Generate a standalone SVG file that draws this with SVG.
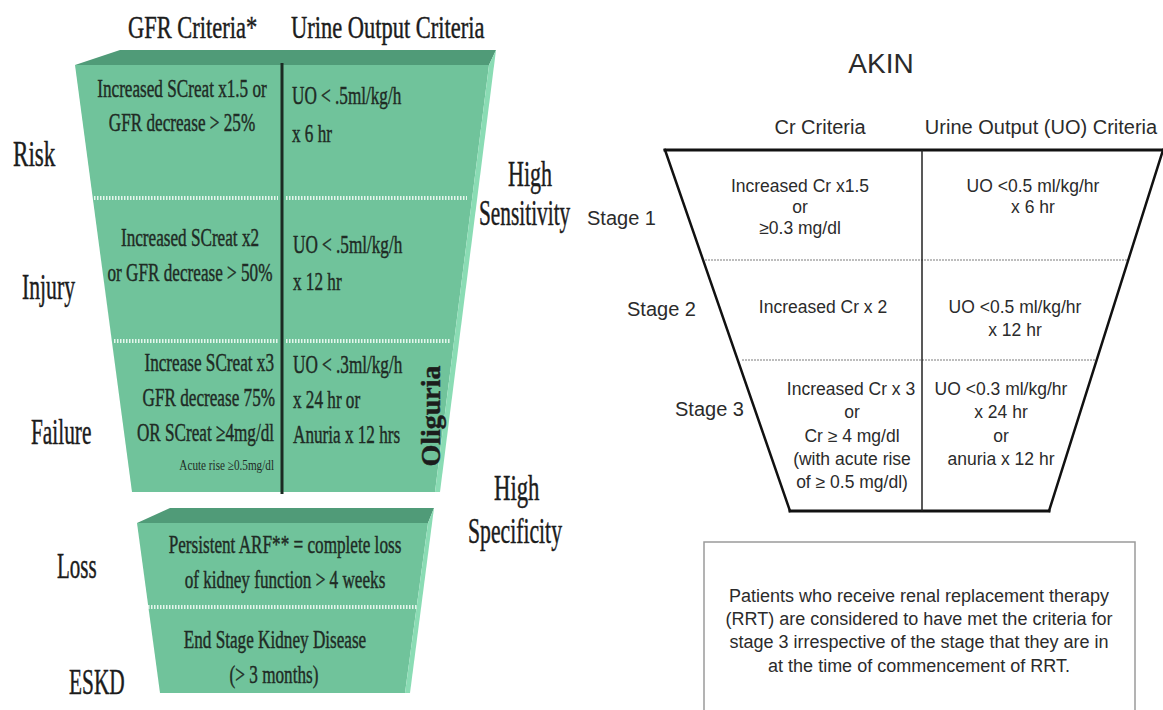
<svg xmlns="http://www.w3.org/2000/svg" width="1163" height="710" viewBox="0 0 1163 710">
<style>
.ser{font-family:"Liberation Serif","Times New Roman",serif;fill:#1c1c1c;stroke:#1c1c1c;stroke-width:0.45}
.hdr{font-size:31px}
.lbl{font-size:35px}
.cell{font-size:26px;fill:#1f2b25;stroke:#1f2b25}
.small{font-size:14px;fill:#1f2b25;stroke:none}
.mid{text-anchor:middle}
.end{text-anchor:end}
.sans{font-family:"Liberation Sans",Arial,sans-serif;fill:#2b2b2b}
.cs{font-size:17.5px}
.sh{font-size:20px}
.face{fill:#70c39b}
.band{fill:#509b78}
.strip{fill:#8adcb4}
.dot{stroke:#e4f6ec;stroke-width:4;stroke-dasharray:1.5 1.5;fill:none}
.gdot{stroke:#a8a8a8;stroke-width:1.6;stroke-dasharray:2 1;fill:none}
.blk{stroke:#111;fill:none;stroke-linecap:square}
</style>

<g id="rifle-headers">
<text class="ser hdr" transform="translate(128,38) scale(0.725,1)">GFR Criteria*</text>
<text class="ser hdr" transform="translate(291,38) scale(0.725,1)">Urine Output Criteria</text>
</g>

<g id="rifle-upper-box">
<polygon class="band" points="75,65 120,50 496,50 489,65"/>
<polygon class="face" points="75,65 489,65 435,492 132,492"/>
<polygon class="strip" points="489,65 496,50 440,492 435,492"/>
<line x1="282" y1="63" x2="282" y2="494" stroke="#1b2a23" stroke-width="3"/>
<line class="dot" x1="94" y1="198" x2="278" y2="198"/>
<line class="dot" x1="286" y1="198" x2="467" y2="198"/>
<line class="dot" x1="114" y1="341" x2="278" y2="341"/>
<line class="dot" x1="286" y1="341" x2="450" y2="341"/>
</g>

<g id="risk-row">
<text class="ser cell mid" transform="translate(182,97) scale(0.66,1)">Increased SCreat x1.5 or</text>
<text class="ser cell mid" transform="translate(182,131) scale(0.66,1)">GFR decrease &gt; 25%</text>
<text class="ser cell" transform="translate(292,104) scale(0.66,1)">UO &lt; .5ml/kg/h</text>
<text class="ser cell" transform="translate(292,142) scale(0.66,1)">x 6 hr</text>
</g>

<g id="injury-row">
<text class="ser cell mid" transform="translate(190,246) scale(0.66,1)">Increased SCreat x2</text>
<text class="ser cell mid" transform="translate(190,281) scale(0.66,1)">or GFR decrease &gt; 50%</text>
<text class="ser cell" transform="translate(293,253) scale(0.66,1)">UO &lt; .5ml/kg/h</text>
<text class="ser cell" transform="translate(293,290) scale(0.66,1)">x 12 hr</text>
</g>

<g id="failure-row">
<text class="ser cell end" transform="translate(274,371) scale(0.66,1)">Increase SCreat x3</text>
<text class="ser cell end" transform="translate(275,406) scale(0.66,1)">GFR decrease 75%</text>
<text class="ser cell end" transform="translate(274,441) scale(0.66,1)">OR SCreat ≥4mg/dl</text>
<text class="ser small end" transform="translate(274,470) scale(0.8,1)">Acute rise ≥0.5mg/dl</text>
<text class="ser cell" transform="translate(293,373) scale(0.66,1)">UO &lt; .3ml/kg/h</text>
<text class="ser cell" transform="translate(293,408) scale(0.66,1)">x 24 hr or</text>
<text class="ser cell" transform="translate(293,443) scale(0.66,1)">Anuria x 12 hrs</text>
<text class="ser mid" font-size="28" font-weight="bold" fill="#1b2a23" stroke="none" transform="translate(440,416) rotate(-90)">Oliguria</text>
</g>

<g id="rifle-lower-box">
<polygon class="band" points="137,523 170,508 434,508 428,523"/>
<polygon class="face" points="137,523 428,523 405,693 160,693"/>
<polygon class="strip" points="428,523 434,508 410,693 405,693"/>
<line class="dot" x1="148" y1="607" x2="418" y2="607"/>
<text class="ser cell mid" transform="translate(285,553) scale(0.66,1)">Persistent ARF** = complete loss</text>
<text class="ser cell mid" transform="translate(285,588) scale(0.66,1)">of kidney function &gt; 4 weeks</text>
<text class="ser cell mid" transform="translate(275,648) scale(0.66,1)">End Stage Kidney Disease</text>
<text class="ser cell mid" transform="translate(274,683) scale(0.66,1)">(&gt; 3 months)</text>
</g>

<g id="rifle-labels">
<text class="ser lbl" transform="translate(13,166) scale(0.66,1)">Risk</text>
<text class="ser lbl" transform="translate(22,299) scale(0.62,1)">Injury</text>
<text class="ser lbl" transform="translate(31,444) scale(0.61,1)">Failure</text>
<text class="ser lbl" transform="translate(57,578) scale(0.6,1)">Loss</text>
<text class="ser lbl" transform="translate(69,694) scale(0.61,1)">ESKD</text>
<text class="ser lbl" transform="translate(508,186) scale(0.63,1)">High</text>
<text class="ser lbl" transform="translate(479,225) scale(0.61,1)">Sensitivity</text>
<text class="ser lbl" transform="translate(494,500) scale(0.65,1)">High</text>
<text class="ser lbl" transform="translate(468,543) scale(0.62,1)">Specificity</text>
</g>

<g id="akin-title">
<text class="sans" font-size="28" x="881" y="73" text-anchor="middle" fill="#222">AKIN</text>
<text class="sans sh" x="820" y="134" text-anchor="middle">Cr Criteria</text>
<text class="sans sh" x="1041" y="134" text-anchor="middle">Urine Output (UO) Criteria</text>
</g>

<g id="akin-funnel">
<line class="gdot" x1="705" y1="260" x2="1128" y2="260"/>
<line class="gdot" x1="742" y1="360" x2="1097" y2="360"/>
<line class="blk" x1="665" y1="150" x2="1163" y2="150" stroke-width="3"/>
<line class="blk" x1="790" y1="511" x2="1049" y2="511" stroke-width="3"/>
<line class="blk" x1="665" y1="150" x2="790" y2="511" stroke-width="2.5"/>
<line class="blk" x1="1163" y1="150" x2="1049" y2="511" stroke-width="2.5"/>
<line x1="922" y1="150" x2="922" y2="511" stroke="#222" stroke-width="1.5"/>
</g>

<g id="stage-1">
<text class="sans sh" x="587" y="225">Stage 1</text>
<text class="sans cs" x="800" y="192" text-anchor="middle">Increased Cr x1.5</text>
<text class="sans cs" x="800" y="213" text-anchor="middle">or</text>
<text class="sans cs" x="800" y="234" text-anchor="middle">≥0.3 mg/dl</text>
<text class="sans cs" x="1033" y="192" text-anchor="middle">UO &lt;0.5 ml/kg/hr</text>
<text class="sans cs" x="1033" y="213" text-anchor="middle">x 6 hr</text>
</g>

<g id="stage-2">
<text class="sans sh" x="627" y="316">Stage 2</text>
<text class="sans cs" x="823" y="313" text-anchor="middle">Increased Cr x 2</text>
<text class="sans cs" x="1015" y="313" text-anchor="middle">UO &lt;0.5 ml/kg/hr</text>
<text class="sans cs" x="1015" y="336" text-anchor="middle">x 12 hr</text>
</g>

<g id="stage-3">
<text class="sans sh" x="675" y="416">Stage 3</text>
<text class="sans cs" x="851" y="395" text-anchor="middle">Increased Cr x 3</text>
<text class="sans cs" x="852" y="418" text-anchor="middle">or</text>
<text class="sans cs" x="852" y="442" text-anchor="middle">Cr ≥ 4 mg/dl</text>
<text class="sans cs" x="852" y="465" text-anchor="middle">(with acute rise</text>
<text class="sans cs" x="852" y="488" text-anchor="middle">of ≥ 0.5 mg/dl)</text>
<text class="sans cs" x="1001" y="395" text-anchor="middle">UO &lt;0.3 ml/kg/hr</text>
<text class="sans cs" x="1001" y="418" text-anchor="middle">x 24 hr</text>
<text class="sans cs" x="1001" y="442" text-anchor="middle">or</text>
<text class="sans cs" x="1001" y="465" text-anchor="middle">anuria x 12 hr</text>
</g>

<g id="rrt-note">
<rect x="704" y="542" width="431" height="180" fill="#fff" stroke="#9a9a9a" stroke-width="1.5"/>
<text class="sans" font-size="18" x="919" y="602" text-anchor="middle">Patients who receive renal replacement therapy</text>
<text class="sans" font-size="18" x="919" y="625" text-anchor="middle">(RRT) are considered to have met the criteria for</text>
<text class="sans" font-size="18" x="919" y="648" text-anchor="middle">stage 3 irrespective of the stage that they are in</text>
<text class="sans" font-size="18" x="919" y="672" text-anchor="middle">at the time of commencement of RRT.</text>
</g>

<g id="connectors"></g>
</svg>
